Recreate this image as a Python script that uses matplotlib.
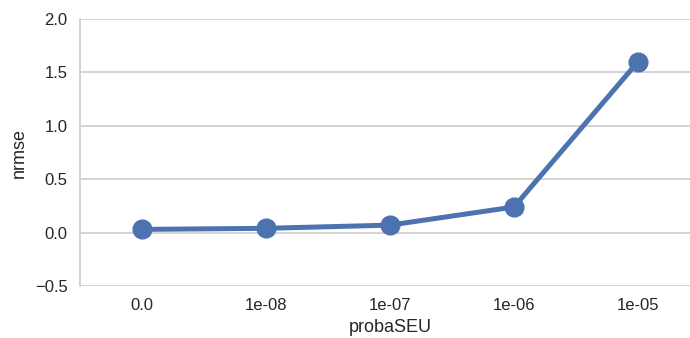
import matplotlib

matplotlib.use("Agg")
import matplotlib.pyplot as plt

proba_seu = ["0.0", "1e-08", "1e-07", "1e-06", "1e-05"]
nrmse = [0.03, 0.04, 0.07, 0.24, 1.60]

plt.rcParams["font.family"] = ["Liberation Sans", "DejaVu Sans"]

fig = plt.figure(figsize=(6.9, 3.38), dpi=100)
ax = fig.add_axes([80 / 690, 1 - 286 / 338, 620 / 690, 267 / 338])

pos = range(len(proba_seu))
ax.plot(pos, nrmse, color="#4C72B0", lw=3.6, marker="o", ms=13.5, zorder=3)

ax.set_xlim(-0.5, len(proba_seu) - 0.5)
ax.set_ylim(-0.5, 2.0)
ax.set_yticks([-0.5, 0.0, 0.5, 1.0, 1.5, 2.0])
ax.set_xticks(list(pos))
ax.set_xticklabels(proba_seu)
ax.set_xlabel("probaSEU", fontsize=13, color=".15", labelpad=4)
ax.set_ylabel("nrmse", fontsize=13, color=".15", labelpad=5)
ax.tick_params(length=0, labelsize=12, labelcolor=".15", pad=9)
ax.yaxis.grid(True, color=".8", lw=1.2)
ax.set_axisbelow(True)
for s in ["top", "right", "bottom"]:
    ax.spines[s].set_visible(False)
ax.spines["left"].set_color(".8")
ax.spines["left"].set_linewidth(1.2)

fig.savefig("out.png", dpi=100)
